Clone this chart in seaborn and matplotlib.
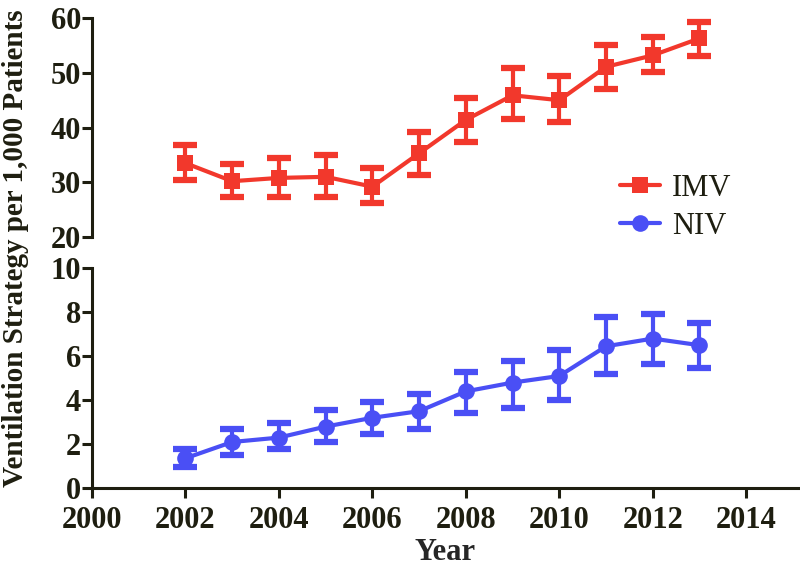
import matplotlib
matplotlib.use('Agg')
import matplotlib.pyplot as plt
import seaborn as sns
import pandas as pd

years = [2002, 2003, 2004, 2005, 2006, 2007, 2008, 2009, 2010, 2011, 2012, 2013]
imv = [33.5, 30.2, 30.8, 31.0, 29.2, 35.3, 41.4, 45.9, 45.0, 51.1, 53.2, 56.3]
imv_lo = [30.4, 27.3, 27.3, 27.3, 26.2, 31.3, 37.4, 41.6, 41.0, 47.0, 50.1, 53.1]
imv_hi = [36.8, 33.3, 34.4, 35.0, 32.6, 39.2, 45.4, 50.9, 49.4, 55.1, 56.5, 59.3]
niv = [1.36, 2.1, 2.3, 2.8, 3.2, 3.5, 4.4, 4.8, 5.1, 6.45, 6.8, 6.5]
niv_lo = [0.95, 1.5, 1.8, 2.1, 2.45, 2.7, 3.4, 3.65, 4.0, 5.2, 5.65, 5.45]
niv_hi = [1.8, 2.7, 2.95, 3.55, 3.9, 4.3, 5.3, 5.8, 6.3, 7.8, 7.9, 7.5]
x_ticks = [2000, 2002, 2004, 2006, 2008, 2010, 2012, 2014]

red = '#f2382c'
blue = '#4a4ff5'
ink = '#1e1e10'

sns.set_style('ticks')
plt.rcParams['font.family'] = ['Liberation Serif', 'DejaVu Serif']
plt.rcParams['font.weight'] = 'bold'
plt.rcParams['axes.edgecolor'] = ink
plt.rcParams['text.color'] = ink
plt.rcParams['xtick.color'] = ink
plt.rcParams['ytick.color'] = ink

df_imv = pd.DataFrame({'Year': years, 'Rate': imv})
df_niv = pd.DataFrame({'Year': years, 'Rate': niv})

fig = plt.figure(figsize=(8, 5.67), dpi=100)
ax_top = fig.add_axes([0.115, 0.582, 0.882, 0.386])
ax_bot = fig.add_axes([0.115, 0.139, 0.882, 0.388])

# error bars first, then line + markers from seaborn
ax_top.errorbar(years, imv,
                yerr=[[m - l for m, l in zip(imv, imv_lo)], [h - m for m, h in zip(imv, imv_hi)]],
                fmt='none', ecolor=red, elinewidth=3, capsize=8.5, capthick=4.5, zorder=2)
sns.lineplot(data=df_imv, x='Year', y='Rate', ax=ax_top, color=red, lw=3,
             marker='s', markersize=11.5, markeredgewidth=0, label='IMV', zorder=3)

ax_bot.errorbar(years, niv,
                yerr=[[m - l for m, l in zip(niv, niv_lo)], [h - m for m, h in zip(niv, niv_hi)]],
                fmt='none', ecolor=blue, elinewidth=3, capsize=8.5, capthick=4.5, zorder=2)
sns.lineplot(data=df_niv, x='Year', y='Rate', ax=ax_bot, color=blue, lw=3,
             marker='o', markersize=12, markeredgewidth=0, label='NIV', zorder=3)

for ax in (ax_top, ax_bot):
    ax.set_xlim(2000, 2015.1)
    ax.spines['top'].set_visible(False)
    ax.spines['right'].set_visible(False)
    ax.spines['left'].set_linewidth(2.2)
    ax.spines['bottom'].set_linewidth(2.2)
    ax.tick_params(width=2.2, length=7, labelsize=22)
    ax.tick_params(axis='y', pad=1)
    ax.tick_params(axis='x', pad=6)
    ax.set_ylabel('')
    ax.set_xlabel('')
    ax.get_legend().remove()

ax_top.set_ylim(20, 60)
ax_top.set_yticks([20, 30, 40, 50, 60])
ax_top.spines['bottom'].set_visible(False)
ax_top.tick_params(axis='x', bottom=False, labelbottom=False)
ax_top.patch.set_alpha(0)

ax_bot.set_ylim(0, 10)
ax_bot.set_yticks([0, 2, 4, 6, 8, 10])
ax_bot.set_xticks(x_ticks)
ax_bot.set_xlabel('Year', fontsize=22, fontweight='bold', labelpad=2)

for lab in ax_top.get_yticklabels() + ax_bot.get_yticklabels() + ax_bot.get_xticklabels():
    lab.set_fontweight('bold')

fig.text(0.019, 0.562, 'Ventilation Strategy per 1,000 Patients', rotation=90,
         fontsize=21, fontweight='bold', ha='center', va='center')

h1, l1 = ax_top.get_legend_handles_labels()
h2, l2 = ax_bot.get_legend_handles_labels()
fig.legend(h1 + h2, l1 + l2, loc='center left', bbox_to_anchor=(0.748, 0.634),
           frameon=False, prop={'family': 'Liberation Serif', 'weight': 'normal', 'size': 22},
           handlelength=1.3, labelspacing=0.3, handletextpad=0.4, borderpad=0.2)

plt.savefig('out.png', dpi=100)
